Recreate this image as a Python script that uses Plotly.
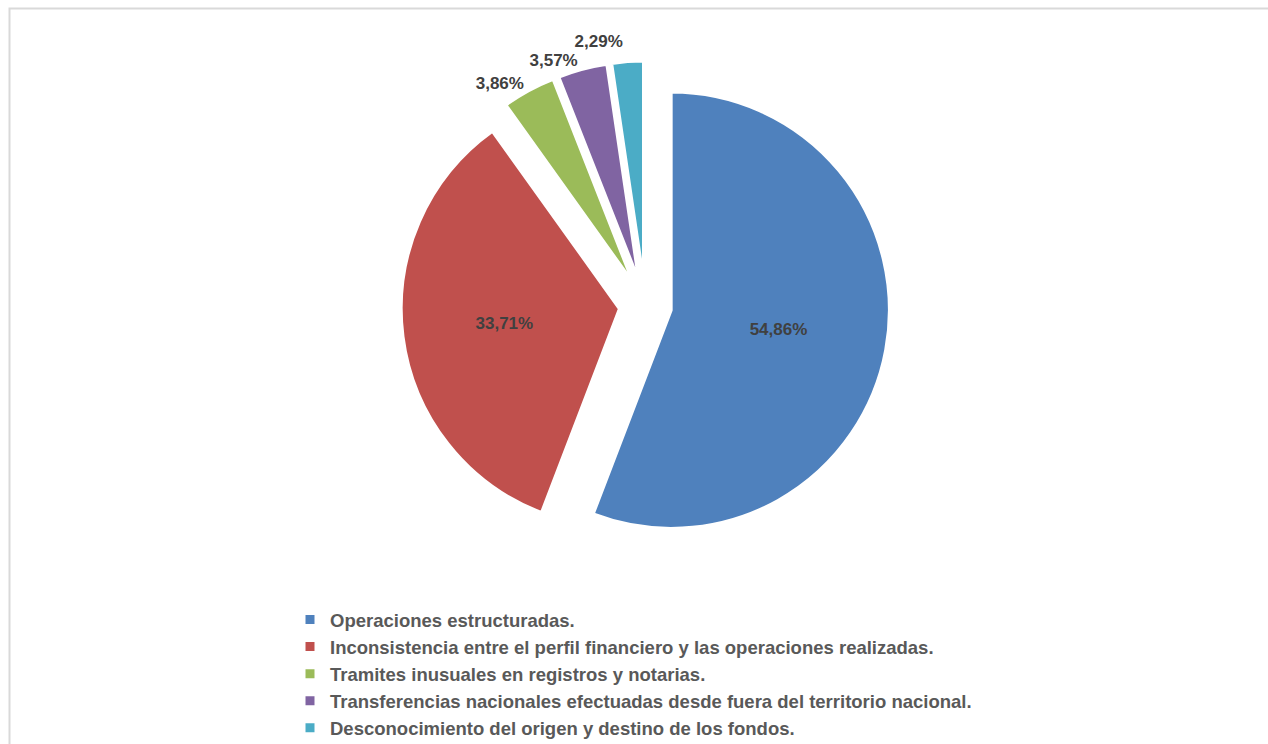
import plotly.graph_objects as go

# Categories and their shares (%), as published
categories = [
    "Operaciones estructuradas.",
    "Inconsistencia entre el perfil financiero y las operaciones realizadas.",
    "Tramites inusuales en registros y notarias.",
    "Transferencias nacionales efectuadas desde fuera del territorio nacional.",
    "Desconocimiento del origen y destino de los fondos.",
]
shares = [54.86, 33.71, 3.86, 3.57, 2.29]
colors = ["#4F81BD", "#C0504D", "#9BBB59", "#8064A2", "#4BACC6"]

# Labels use a decimal comma
labels_text = [f"{v:.2f}".replace(".", ",") + "%" for v in shares]

FONT = "Liberation Sans, Arial, sans-serif"
LABEL_COLOR = "#404040"

# The outside-label font is transparent so plotly's connector lines vanish;
# the label text itself is coloured through an inline span.
label_template = (
    "<span style='color:" + LABEL_COLOR + ";fill-opacity:1'>%{text}</span>"
)

fig = go.Figure(
    go.Pie(
        labels=categories,
        values=shares,
        text=labels_text,
        texttemplate=label_template,
        hoverinfo="label+text",
        textposition=["inside", "inside", "outside", "outside", "outside"],
        insidetextorientation="horizontal",
        textfont=dict(family=FONT, size=17, color=LABEL_COLOR, weight="bold"),
        insidetextfont=dict(family=FONT, size=17, color=LABEL_COLOR, weight="bold"),
        outsidetextfont=dict(family=FONT, size=17, color="rgba(0,0,0,0)", weight="bold"),
        sort=False,
        direction="clockwise",
        rotation=0,
        pull=0.12,
        marker=dict(colors=colors, line=dict(color="white", width=3)),
        domain=dict(x=[0.316, 0.702], y=[0.261, 0.918]),
    )
)

fig.update_layout(
    width=1268,
    height=744,
    margin=dict(l=0, r=0, t=0, b=0, autoexpand=False),
    paper_bgcolor="white",
    plot_bgcolor="white",
    font=dict(family=FONT, color="#595959"),
    showlegend=True,
    legend=dict(
        orientation="v",
        x=290 / 1268,
        xanchor="left",
        y=1 - 601 / 744,
        yanchor="top",
        font=dict(size=18.5, color="#595959", family=FONT, weight="bold"),
        bgcolor="rgba(0,0,0,0)",
        traceorder="normal",
    ),
    shapes=[
        dict(
            type="rect",
            xref="paper",
            yref="paper",
            x0=9.5 / 1268,
            x1=1.02,
            y0=-0.02,
            y1=1 - 8.5 / 744,
            line=dict(color="#D9D9D9", width=2),
            fillcolor="rgba(0,0,0,0)",
            layer="below",
        )
    ],
)

fig.write_html("out.html")
